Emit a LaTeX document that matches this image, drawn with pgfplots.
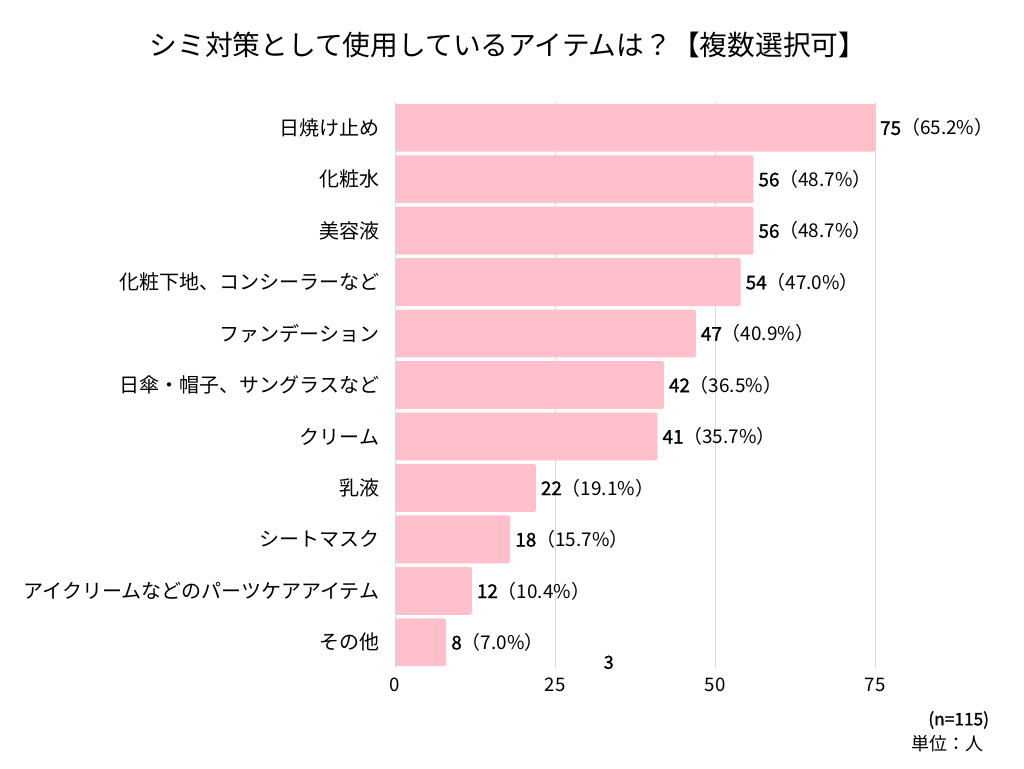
\documentclass[border=0pt]{standalone}
\usepackage{pgfplots}
\pgfplotsset{compat=1.18}
\usepackage{fontspec}
\setmainfont{Noto Sans CJK JP}
\newfontfamily\medfont{Noto Sans CJK JP}[FakeBold=1.2]
\definecolor{barpink}{HTML}{FFBFCB}
\definecolor{gridgray}{HTML}{D9D9D9}
\newcommand{\lab}[2]{{\medfont #1}（#2\%）}
\begin{document}
\begin{tikzpicture}
\path[use as bounding box] (0,0) rectangle (768pt,576pt);
\node[font=\fontsize{20.8}{24}\selectfont] at (381pt,542.25pt) {シミ対策として使用しているアイテムは？【複数選択可】};
\begin{axis}[
  at={(296.25pt,75pt)}, anchor=south west,
  scale only axis, width=360pt, height=424.5pt,
  xmin=0, xmax=75, ymin=-0.5, ymax=10.5,
  y dir=reverse,
  xbar, bar width=0.93, bar shift=0pt,
  axis line style={draw=none},
  tick style={draw=none},
  xmajorgrids, grid style={gridgray, line width=0.6pt},
  xtick={0,25,50,75},
  ytick={0,...,10},
  yticklabels={日焼け止め,化粧水,美容液,化粧下地、コンシーラーなど,ファンデーション,日傘・帽子、サングラスなど,クリーム,乳液,シートマスク,アイクリームなどのパーツケアアイテム,その他},
  yticklabel style={font=\fontsize{15}{18}\selectfont, xshift=-4pt},
  xticklabel style={font=\fontsize{14}{17}\selectfont, yshift=-4pt},
  /pgf/number format/assume math mode=true,
  point meta=explicit symbolic,
  nodes near coords,
  nodes near coords style={font=\fontsize{14.2}{17}\selectfont, anchor=west, xshift=0.3pt},
  clip=false,
]
\addplot[fill=barpink, draw=none, rounded corners=1.5pt] coordinates {
  (75,0) [\lab{75}{65.2}]
  (56,1) [\lab{56}{48.7}]
  (56,2) [\lab{56}{48.7}]
  (54,3) [\lab{54}{47.0}]
  (47,4) [\lab{47}{40.9}]
  (42,5) [\lab{42}{36.5}]
  (41,6) [\lab{41}{35.7}]
  (22,7) [\lab{22}{19.1}]
  (18,8) [\lab{18}{15.7}]
  (12,9) [\lab{12}{10.4}]
  (8,10) [\lab{8}{7.0}]
};
\node[font=\fontsize{13.5}{16}\selectfont\medfont] at (axis cs:33.4,10.39) {3};
\end{axis}
\node[anchor=east, font=\fontsize{13}{16}\selectfont\medfont, inner sep=0pt] at (742pt,36pt) {(n=115)};
\node[anchor=east, font=\fontsize{13.5}{16}\selectfont, inner sep=0pt] at (738pt,18pt) {単位：人};
\end{tikzpicture}
\end{document}
